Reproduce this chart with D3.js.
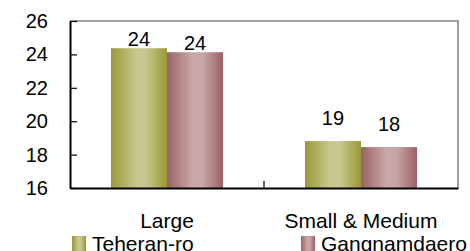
<!DOCTYPE html>
<html>
<head>
<meta charset="utf-8">
<script src="https://cdn.jsdelivr.net/npm/d3@7/dist/d3.min.js"></script>
<style>
  body { margin: 0; background: #fff; }
  svg text { font-family: "Liberation Sans", Arial, sans-serif; fill: #000; }
</style>
</head>
<body>
<svg width="470" height="251"></svg>
<script>
var categories = ["Large", "Small & Medium"];
var series = ["Teheran-ro", "Gangnamdaero"];
var teheranValues = [24.37, 18.81];
var gangnamValues = [24.13, 18.45];
var yTicks = [16, 18, 20, 22, 24, 26];

var svg = d3.select("svg"),
    plotL = 70, plotR = 458, plotT = 21, plotB = 188;

// bar gradients
var defs = svg.append("defs");
function grad(id, dark, light) {
  var g = defs.append("linearGradient").attr("id", id)
    .attr("x1", "0%").attr("x2", "100%").attr("y1", "0%").attr("y2", "0%");
  g.append("stop").attr("offset", "0%").attr("stop-color", dark);
  g.append("stop").attr("offset", "45%").attr("stop-color", light);
  g.append("stop").attr("offset", "62%").attr("stop-color", light);
  g.append("stop").attr("offset", "100%").attr("stop-color", dark);
}
grad("g0", "#999937", "#c8c88e");
grad("g1", "#9a6264", "#c9a7a9");
var fills = ["url(#g0)", "url(#g1)"];

var x0 = d3.scaleBand().domain(categories).range([plotL, plotR]).padding(0);
var x1 = d3.scaleBand().domain(series).range([0, x0.bandwidth()]).paddingInner(0).paddingOuter(0.73);
var y = d3.scaleLinear().domain([16, 26]).range([plotB, plotT]);

var rows = categories.map(function(c, i) {
  return { cat: c, vals: [teheranValues[i], gangnamValues[i]] };
});

// frame: top and right gray
svg.append("path")
   .attr("d", "M" + plotL + "," + plotT + "H" + plotR + "V" + plotB)
   .attr("fill", "none").attr("stroke", "#858585").attr("stroke-width", 1.6);

// bars
var grp = svg.selectAll(".grp").data(rows).enter().append("g")
   .attr("transform", function(d) { return "translate(" + x0(d.cat) + ",0)"; });

grp.selectAll("rect")
   .data(function(d) { return d.vals.map(function(v, j) { return { s: series[j], v: v, j: j }; }); })
   .enter().append("rect")
   .attr("x", function(d) { return x1(d.s); })
   .attr("y", function(d) { return y(d.v); })
   .attr("width", x1.bandwidth())
   .attr("height", function(d) { return plotB - y(d.v); })
   .attr("fill", function(d) { return fills[d.j]; });

// value labels (Excel placed the small-company ones higher)
var labelLift = { "Large": 2, "Small & Medium": 16 };
grp.each(function(r) {
  d3.select(this).selectAll(".lbl")
    .data(r.vals.map(function(v, j) { return { s: series[j], v: v }; }))
    .enter().append("text")
    .attr("x", function(d) { return x1(d.s) + x1.bandwidth() / 2; })
    .attr("y", function(d) { return y(d.v) - labelLift[r.cat]; })
    .attr("text-anchor", "middle")
    .attr("font-size", "20px")
    .text(function(d) { return d3.format(".0f")(d.v); });
});

// y axis
svg.append("g")
   .attr("transform", "translate(" + plotL + ",0)")
   .call(d3.axisLeft(y).tickValues(yTicks).tickFormat(d3.format("d"))
     .tickSizeInner(-7).tickSizeOuter(0).tickPadding(22))
   .call(function(g) {
     g.select(".domain").attr("stroke", "#000").attr("stroke-width", 2);
     g.selectAll(".tick line").attr("stroke", "#000").attr("stroke-width", 1.2);
     g.selectAll("text").attr("font-size", "20px").attr("font-family", "Liberation Sans, Arial, sans-serif");
   });

// x axis
svg.append("g")
   .attr("transform", "translate(0," + plotB + ")")
   .call(d3.axisBottom(x0).tickSize(0).tickPadding(25))
   .call(function(g) {
     g.select(".domain").attr("stroke", "#000").attr("stroke-width", 2);
     g.selectAll("text").attr("font-size", "21px").attr("font-family", "Liberation Sans, Arial, sans-serif");
   });

// category boundary ticks
svg.selectAll(".sep").data(categories.slice(1)).enter().append("line")
   .attr("x1", function(d) { return x0(d); }).attr("x2", function(d) { return x0(d); })
   .attr("y1", plotB).attr("y2", plotB - 7)
   .attr("stroke", "#000").attr("stroke-width", 1.2);

// legend
var legX = [72, 301];
var leg = svg.selectAll(".leg").data(series).enter().append("g")
   .attr("transform", function(d, i) { return "translate(" + legX[i] + ",236)"; });
leg.append("rect").attr("width", 14).attr("height", 15)
   .attr("fill", function(d, i) { return fills[i]; });
leg.append("text").attr("x", 20).attr("y", 14.5)
   .attr("font-size", "21px").text(function(d) { return d; });
</script>
</body>
</html>
